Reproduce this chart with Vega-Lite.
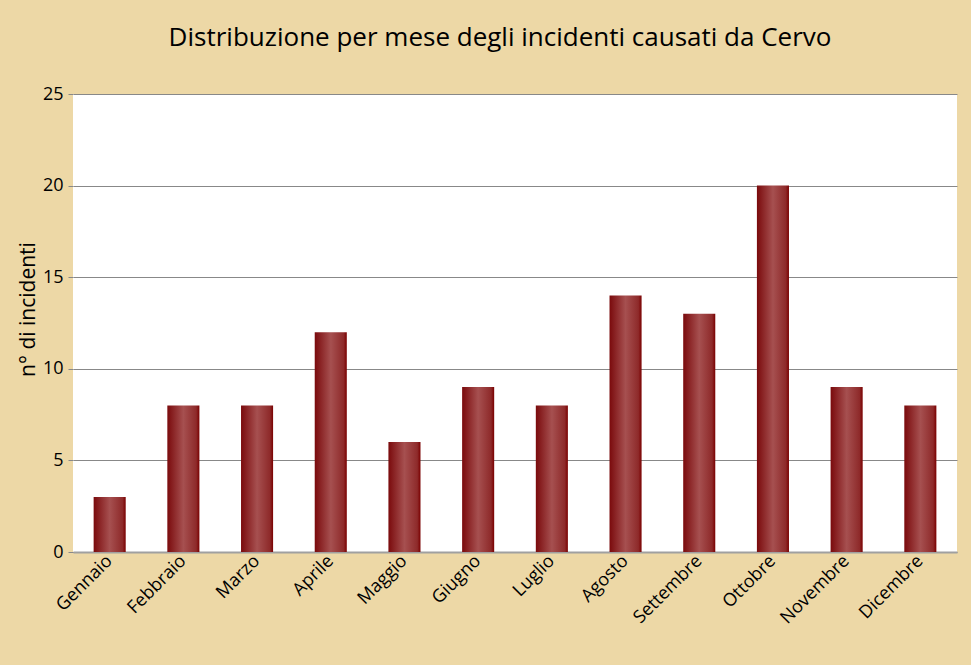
{
  "$schema": "https://vega.github.io/schema/vega-lite/v6.json",
  "autosize": "none",
  "width": 884,
  "height": 458,
  "padding": {"left": 73, "top": 94, "right": 14, "bottom": 113},
  "background": "#EDD8A6",
  "title": {
    "text": "Distribuzione per mese degli incidenti causati da Cervo",
    "font": "Open Sans",
    "fontSize": 26,
    "fontWeight": "normal",
    "color": "#000000",
    "anchor": "middle",
    "dx": -15,
    "offset": 34
  },
  "data": {
    "values": [
      {"mese": "Gennaio", "n": 3},
      {"mese": "Febbraio", "n": 8},
      {"mese": "Marzo", "n": 8},
      {"mese": "Aprile", "n": 12},
      {"mese": "Maggio", "n": 6},
      {"mese": "Giugno", "n": 9},
      {"mese": "Luglio", "n": 8},
      {"mese": "Agosto", "n": 14},
      {"mese": "Settembre", "n": 13},
      {"mese": "Ottobre", "n": 20},
      {"mese": "Novembre", "n": 9},
      {"mese": "Dicembre", "n": 8}
    ]
  },
  "mark": {
    "type": "bar",
    "color": {
      "gradient": "linear",
      "x1": 0, "y1": 0, "x2": 1, "y2": 0,
      "stops": [
        {"offset": 0, "color": "#7A0A0C"},
        {"offset": 0.5, "color": "#A65050"},
        {"offset": 0.9, "color": "#8E2A2A"},
        {"offset": 1, "color": "#7A0000"}
      ]
    }
  },
  "encoding": {
    "x": {
      "field": "mese",
      "type": "nominal",
      "sort": null,
      "title": null,
      "scale": {"paddingInner": 0.565, "paddingOuter": 0.28},
      "axis": {
        "labelAngle": -45,
        "labelAlign": "right",
        "labelBaseline": "middle",
        "labelFont": "Open Sans",
        "labelFontSize": 18,
        "labelColor": "#000000",
        "labelPadding": 6,
        "labelOverlap": false,
        "ticks": false,
        "domainColor": "#A0A0A0",
        "domainWidth": 2
      }
    },
    "y": {
      "field": "n",
      "type": "quantitative",
      "title": "n° di incidenti",
      "scale": {"domain": [0, 25]},
      "axis": {
        "values": [0, 5, 10, 15, 20, 25],
        "labelFont": "Open Sans",
        "labelFontSize": 18,
        "labelColor": "#000000",
        "labelPadding": 5,
        "tickColor": "#888888",
        "tickSize": 5,
        "gridColor": "#888888",
        "domain": false,
        "titleFont": "Open Sans",
        "titleFontSize": 21,
        "titleFontWeight": "normal",
        "titleColor": "#000000",
        "titlePadding": 4,
        "titleY": 215
      }
    }
  },
  "config": {
    "view": {"fill": "#FFFFFF", "stroke": null}
  }
}
